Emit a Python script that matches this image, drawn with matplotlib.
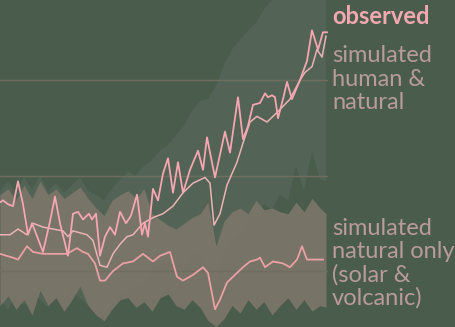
import matplotlib
matplotlib.use("Agg")
import matplotlib.pyplot as plt
import numpy as np

# ---------------- data (temperature anomaly, deg C) ----------------
obs_years = [1938, 1938.75, 1940, 1941.25, 1942.5, 1943.75, 1945, 1946, 1946.75, 1948.75,
             1950.5, 1951.75, 1953, 1955, 1956.25, 1957.5, 1958.75, 1960.25, 1961, 1962,
             1963, 1964.25, 1965.5, 1966.75, 1968, 1969.5, 1970.75, 1972.25, 1973.5, 1974.25,
             1975, 1976.25, 1977.5, 1978.75, 1980, 1981.25, 1982.5, 1983.75, 1985.5, 1987.5,
             1988.75, 1989.75, 1991.75, 1993, 1994.25, 1995.5, 1997.5, 1998.75, 2000, 2001.25,
             2003, 2004.25, 2005, 2006, 2006.75, 2007.5, 2008.75, 2009.75, 2011, 2012,
             2013, 2014.75, 2016, 2017.5, 2018.75, 2019.75]
obs_vals = [0.36, 0.37, 0.35, 0.34, 0.47, 0.35, 0.19, 0.25, 0.21, 0.10,
            0.26, 0.39, 0.25, 0.08, 0.30, 0.31, 0.27, 0.30, 0.27, 0.30,
            0.08, 0.18, 0.23, 0.19, 0.31, 0.25, 0.29, 0.40, 0.19, 0.25,
            0.18, 0.43, 0.37, 0.51, 0.59, 0.41, 0.57, 0.41, 0.53, 0.63,
            0.53, 0.70, 0.49, 0.61, 0.73, 0.62, 0.91, 0.69, 0.76, 0.87,
            0.88, 0.93, 0.91, 0.92, 0.91, 0.80, 0.90, 0.99, 0.90, 0.95,
            1.00, 1.10, 1.26, 1.16, 1.25, 1.25]

hn_years = [1938, 1940.5, 1942.5, 1944.75, 1946.25, 1948.75, 1951.25, 1953.75, 1955, 1956.25,
            1959.75, 1961.25, 1963, 1964.75, 1966.25, 1968, 1969.75, 1971.25, 1973.75, 1976.25,
            1978.75, 1981.25, 1983.75, 1986.25, 1989.25, 1990.5, 1991.5, 1993, 1994.75, 1997.25,
            1998.75, 2000.5, 2002.25, 2004.75, 2007.25, 2010.5, 2013, 2014.25, 2016, 2017.25,
            2018.5, 2019.5]
hn_vals = [0.19, 0.19, 0.22, 0.19, 0.25, 0.23, 0.22, 0.21, 0.18, 0.21,
           0.19, 0.16, 0.03, 0.02, 0.09, 0.14, 0.18, 0.19, 0.25, 0.28,
           0.30, 0.34, 0.41, 0.46, 0.49, 0.46, 0.24, 0.30, 0.45, 0.57,
           0.67, 0.78, 0.81, 0.78, 0.83, 0.90, 1.00, 1.04, 1.07, 1.16,
           1.12, 1.23]

nat_years = [1938, 1941.25, 1942.5, 1944.75, 1946.25, 1948.75, 1951.25, 1954.75, 1957.25, 1958.75,
             1960, 1961.75, 1963, 1964.25, 1966.25, 1968.75, 1971.25, 1973.75, 1976.25, 1978,
             1980.5, 1982.25, 1983.75, 1986.25, 1988.75, 1990, 1991.75, 1993, 1994.75, 1996.25,
             1998.75, 2000.5, 2002.25, 2003, 2004.25, 2006.25, 2008.75, 2010.5, 2012.25, 2013.5,
             2014.75, 2016.75, 2018.75]
nat_vals = [0.09, 0.07, 0.06, 0.13, 0.10, 0.09, 0.09, 0.09, 0.12, 0.10,
            0.09, 0.04, -0.05, -0.05, 0.00, 0.04, 0.05, 0.09, 0.05, 0.08,
            0.10, -0.03, -0.05, -0.02, 0.02, -0.01, -0.20, -0.15, -0.06, -0.03,
            0.02, 0.05, 0.06, 0.07, 0.02, 0.05, 0.04, 0.02, 0.06, 0.13,
            0.06, 0.06, 0.06]

band_years = [1938, 1940, 1942, 1944, 1946, 1948, 1950, 1952, 1954, 1956,
              1958, 1960, 1962, 1964, 1966, 1968, 1970, 1972, 1974, 1976,
              1978, 1980, 1982, 1984, 1986, 1988, 1990, 1992, 1994, 1996,
              1998, 2000, 2002, 2004, 2006, 2008, 2010, 2012, 2014, 2016,
              2018, 2019.5]
# simulated natural-only range
nat_hi = [0.40, 0.43, 0.37, 0.45, 0.38, 0.47, 0.40, 0.43, 0.38, 0.41,
          0.44, 0.38, 0.33, 0.29, 0.37, 0.40, 0.42, 0.38, 0.43, 0.30,
          0.27, 0.24, 0.22, 0.25, 0.28, 0.30, 0.36, 0.13, 0.26, 0.31,
          0.33, 0.30, 0.37, 0.32, 0.33, 0.31, 0.30, 0.36, 0.31, 0.38,
          0.33, 0.30]
nat_lo = [-0.18, -0.13, -0.20, -0.15, -0.23, -0.10, -0.18, -0.14, -0.21, -0.15,
          -0.08, -0.18, -0.23, -0.26, -0.20, -0.15, -0.14, -0.19, -0.16, -0.21,
          -0.14, -0.12, -0.18, -0.20, -0.15, -0.19, -0.26, -0.29, -0.25, -0.18,
          -0.22, -0.15, -0.20, -0.16, -0.23, -0.18, -0.14, -0.20, -0.15, -0.21,
          -0.18, -0.19]
# simulated human & natural range
hn_hi = [0.42, 0.47, 0.41, 0.49, 0.43, 0.50, 0.42, 0.46, 0.41, 0.45,
         0.49, 0.42, 0.40, 0.37, 0.43, 0.48, 0.52, 0.50, 0.55, 0.58,
         0.63, 0.66, 0.71, 0.76, 0.84, 0.89, 0.90, 0.97, 1.08, 1.16,
         1.21, 1.26, 1.30, 1.37, 1.42, 1.42, 1.45, 1.48, 1.50, 1.52,
         1.52, 1.52]
hn_lo = [-0.15, -0.20, -0.12, -0.18, -0.10, -0.15, -0.19, -0.13, -0.15, -0.10,
         -0.14, -0.18, -0.21, -0.24, -0.18, -0.13, -0.10, -0.07, -0.05, 0.00,
         0.03, 0.06, 0.05, 0.03, 0.08, 0.11, 0.03, -0.07, 0.08, 0.16,
         0.21, 0.27, 0.29, 0.35, 0.32, 0.40, 0.37, 0.55, 0.42, 0.63,
         0.48, 0.47]

grid_vals = [0.0, 0.5, 1.0]

# ---------------- style ----------------
BG = "#4a5d4c"
HN_BAND = "#536456"
NAT_BAND = "#7b7569"
GRID = "#6e6d5f"
OBS_C = "#f5a6b0"
HN_C = "#eab3b3"
NAT_C = "#eaa0a4"
OBS_TXT = "#f2a8b0"
SIM_TXT = "#b89b9a"

W, H = 456, 327
fig = plt.figure(figsize=(W / 100, H / 100), dpi=100, facecolor=BG)
ax = fig.add_axes([0, 0, 328 / W, 1])
ax.set_facecolor(BG)
ax.set_xlim(1938, 2020)
ax.set_ylim(-0.293, 1.419)
for s in ax.spines.values():
    s.set_visible(False)
ax.set_xticks([])
ax.set_yticks([])

ax.fill_between(band_years, hn_lo, hn_hi, color=HN_BAND, lw=0, zorder=1)
ax.fill_between(band_years, nat_lo, nat_hi, color=NAT_BAND, lw=0, alpha=0.95, zorder=2)
for g in grid_vals:
    ax.axhline(g, color=GRID, lw=1.0, zorder=3)

ax.plot(nat_years, nat_vals, color=NAT_C, lw=1.3, zorder=4)
ax.plot(hn_years, hn_vals, color=HN_C, lw=1.1, zorder=5)
ax.plot(obs_years, obs_vals, color=OBS_C, lw=1.3, zorder=6)

font = "Lato"
def label(txt, xpx, base_px, color, weight="normal"):
    fig.text(xpx / W, 1 - base_px / H, txt, color=color, fontsize=17,
             fontweight=weight, family=font, va="baseline", ha="left")

label("observed", 332, 24, OBS_TXT, "bold")
label("simulated", 332, 62, SIM_TXT)
label("human &", 332, 86, SIM_TXT)
label("natural", 332, 109, SIM_TXT)
label("simulated", 332, 235, SIM_TXT)
label("natural only", 332, 258, SIM_TXT)
label("(solar &", 332, 282, SIM_TXT)
label("volcanic)", 332, 305, SIM_TXT)

fig.savefig("out.png", dpi=100, facecolor=BG)
